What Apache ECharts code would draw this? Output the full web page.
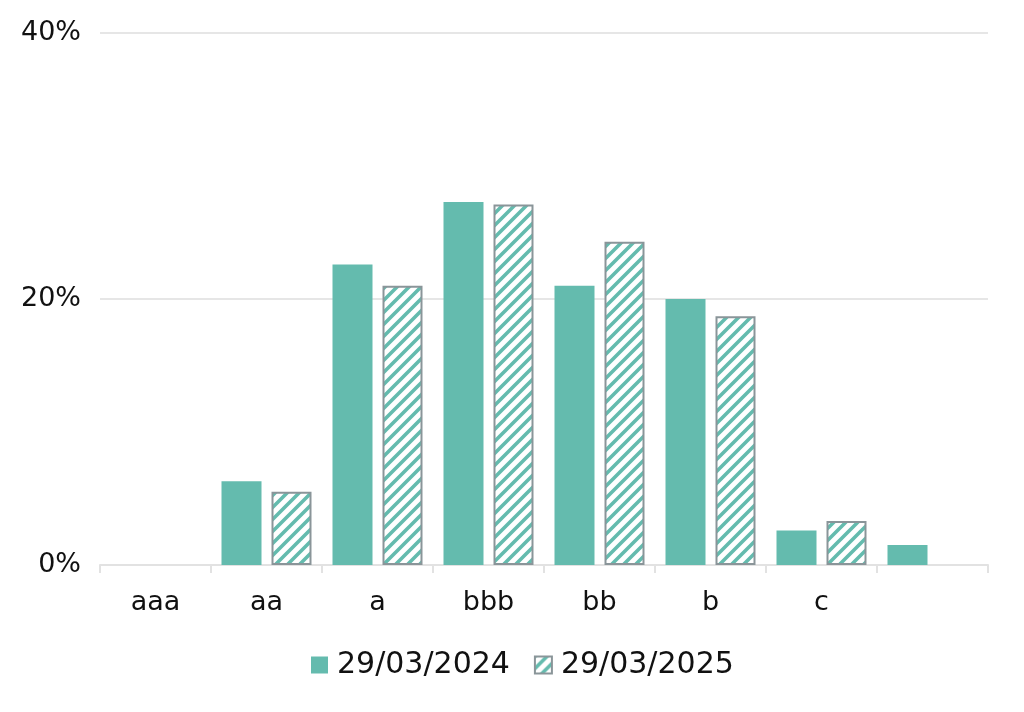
<!DOCTYPE html>
<html>
<head>
<meta charset="utf-8">
<script src="https://cdn.jsdelivr.net/npm/echarts@6/dist/echarts.min.js"></script>
<style>
html,body{margin:0;padding:0;background:#fff;}
#chart{width:1024px;height:712px;}
</style>
</head>
<body>
<div id="chart"></div>
<script>
const categories = ['aaa', 'aa', 'a', 'bbb', 'bb', 'b', 'c', ''];
const series2024 = [0, 6.3, 22.6, 27.3, 21.0, 20.0, 2.6, 1.5];
const series2025 = [0, 5.5, 21.0, 27.1, 24.3, 18.7, 3.3, 0];
const seriesNames = ['29/03/2024', '29/03/2025'];
const yTicks = [0, 20, 40];

const TEAL = '#64bbae';
const BORDER = '#8a9599';

function makeStripe() {
  const s = 12;
  const c = document.createElement('canvas');
  c.width = s; c.height = s;
  const ctx = c.getContext('2d');
  ctx.fillStyle = '#ffffff';
  ctx.fillRect(0, 0, s, s);
  ctx.strokeStyle = TEAL;
  ctx.lineWidth = 3.6;
  ctx.beginPath();
  ctx.moveTo(-3, s + 3); ctx.lineTo(s + 3, -3);
  ctx.moveTo(-3, 3); ctx.lineTo(3, -3);
  ctx.moveTo(s - 3, s + 3); ctx.lineTo(s + 3, s - 3);
  ctx.stroke();
  return c;
}
const stripe = { image: makeStripe(), repeat: 'repeat' };

const data2025 = series2025.map(v => ({
  value: v,
  itemStyle: v === 0 ? { borderWidth: 0 } : undefined
}));

const chart = echarts.init(document.getElementById('chart'), null, { renderer: 'canvas' });
chart.setOption({
  animation: false,
  backgroundColor: '#ffffff',
  textStyle: { fontFamily: 'DejaVu Sans' },
  grid: { left: 100, right: 36, top: 33, bottom: 147, containLabel: false },
  legend: {
    top: 645,
    left: 306,
    itemWidth: 17,
    itemHeight: 17,
    itemGap: 24,
    icon: 'rect',
    textStyle: { fontSize: 30, color: '#111', fontFamily: 'DejaVu Sans', padding: [0, 0, 0, 4] },
    data: [
      { name: seriesNames[0], itemStyle: { color: TEAL } },
      { name: seriesNames[1], itemStyle: { color: stripe, borderColor: BORDER, borderWidth: 2 } }
    ]
  },
  xAxis: {
    type: 'category',
    data: categories,
    boundaryGap: true,
    axisLine: { lineStyle: { color: '#e2e2e2', width: 2 } },
    axisTick: { show: true, length: 8, lineStyle: { color: '#e2e2e2', width: 2 } },
    axisLabel: { fontSize: 27, color: '#111', margin: 24, fontFamily: 'DejaVu Sans' }
  },
  yAxis: {
    type: 'value',
    min: yTicks[0],
    max: yTicks[yTicks.length - 1],
    interval: yTicks[1] - yTicks[0],
    axisLine: { show: false },
    axisTick: { show: false },
    splitLine: { lineStyle: { color: '#e6e6e6', width: 2 } },
    axisLabel: { fontSize: 27, color: '#111', margin: 19, formatter: '{value}%', fontFamily: 'DejaVu Sans' }
  },
  series: [
    {
      name: seriesNames[0],
      type: 'bar',
      data: series2024,
      barWidth: 40,
      barGap: '25%',
      itemStyle: { color: TEAL }
    },
    {
      name: seriesNames[1],
      type: 'bar',
      data: data2025,
      barWidth: 40,
      barGap: '25%',
      itemStyle: { color: stripe, borderColor: BORDER, borderWidth: 2 }
    }
  ]
});
</script>
</body>
</html>
